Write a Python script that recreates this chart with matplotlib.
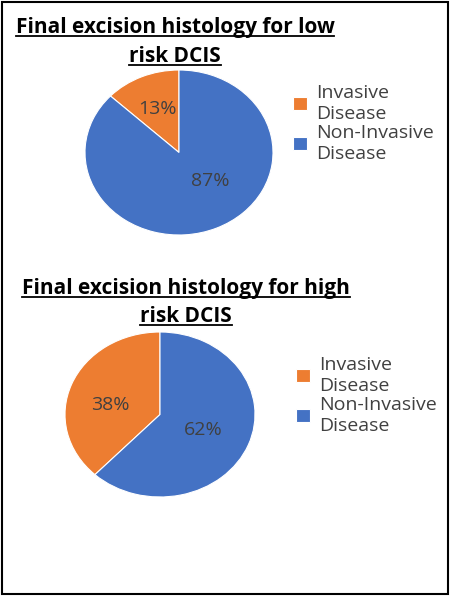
import matplotlib.pyplot as plt
from matplotlib.lines import Line2D
from matplotlib.patches import Rectangle

### DATA
labels = ["Invasive\nDisease", "Non-Invasive\nDisease"]
low_risk = [13, 87]
high_risk = [38, 62]
colors = ["#ED7D31", "#4472C4"]
text_col = "#404040"

W, H = 450, 597
fig = plt.figure(figsize=(4.5, 5.97), dpi=100)
plt.rcParams["font.family"] = ["Open Sans", "DejaVu Sans"]

def fx(px):
    return px / W

def fy(py):
    return 1 - py / H

def draw_pie(vals, box, pct_pos, title_lines, leg_top):
    ax = fig.add_axes([fx(box[0]), fy(box[3]), fx(box[2] - box[0]), (box[3] - box[1]) / H])
    wedges, _ = ax.pie(vals, colors=colors, startangle=90, counterclock=True,
                       wedgeprops=dict(edgecolor="white", linewidth=0.8))
    ax.set_aspect("auto")
    ax.set_xlim(-1, 1)
    ax.set_ylim(-1, 1)
    for v, (x, y) in zip(vals, pct_pos):
        ax.text(x, y, f"{v}%", ha="center", va="center", fontsize=14, color=text_col)

    # underlined bold title, centered lines
    renderer = fig.canvas.get_renderer()
    for txt, cx, uy in title_lines:
        t = fig.text(fx(cx), fy(uy - 3), txt, ha="center", va="baseline",
                     fontsize=15, fontweight="bold", color="black")
        bb = t.get_window_extent(renderer)
        fig.add_artist(Line2D([bb.x0 / fig.bbox.width, bb.x1 / fig.bbox.width],
                              [fy(uy), fy(uy)], color="black", lw=1.3,
                              transform=fig.transFigure))

    fig.legend(wedges, labels, loc="upper left", bbox_to_anchor=(fx(leg_top[0]), fy(leg_top[1])),
               frameon=False, fontsize=14, handlelength=0.7, handleheight=0.7,
               handletextpad=0.5, labelspacing=0.05, labelcolor=text_col,
               borderpad=0, borderaxespad=0)

draw_pie(low_risk, (85, 70, 273, 235),
         [(-0.23, 0.53), (0.33, -0.35)],
         [("Final excision histology for low", 175, 36), ("risk DCIS", 175, 65)],
         (293, 84))
draw_pie(high_risk, (65, 332, 255, 497),
         [(-0.52, 0.12), (0.46, -0.19)],
         [("Final excision histology for high", 186, 297), ("risk DCIS", 186, 325)],
         (296, 356))

fig.add_artist(Rectangle((fx(2), fy(594)), fx(446), 592 / H, fill=False,
                         edgecolor="black", lw=1.5, transform=fig.transFigure))

fig.savefig("out.png", dpi=100)
